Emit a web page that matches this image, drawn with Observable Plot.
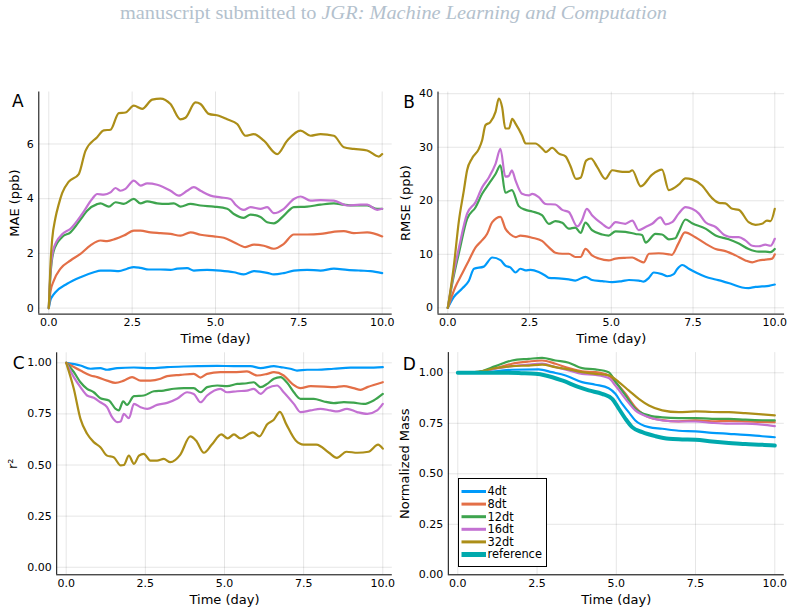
<!DOCTYPE html>
<html>
<head>
<meta charset="utf-8">
<script src="https://cdn.jsdelivr.net/npm/d3@7"></script>
<script src="https://cdn.jsdelivr.net/npm/@observablehq/plot@0.6"></script>
<style>
  body { margin: 0; background: #fff; }
  #fig { position: relative; width: 793px; height: 614px; overflow: hidden; background: #fff;
         font-family: "DejaVu Sans", sans-serif; }
  .panel { position: absolute; }
  .panel svg { overflow: visible; }
</style>
</head>
<body>
<div id="fig"></div>
<script>
// ---- series definitions ----
const seriesNames = ["4dt", "8dt", "12dt", "16dt", "32dt"];
const seriesColors = ["#009AFA", "#E36F47", "#3EA44E", "#C371D2", "#AC8E18"];
const referenceName = "reference";
const referenceColor = "#00A9AD";

const xTicks = [0, 2.5, 5, 7.5, 10];
const xDomain = [-0.3, 10.3];

// ---- A: mean absolute error (ppb), [day, value] ----
const mae4dt = [[0,0],[0.05,0.3],[0.1,0.42],[0.2,0.58],[0.55,0.89],[0.95,1.13],[1.35,1.31],[1.55,1.37],[1.85,1.37],[2.1,1.35],[2.35,1.44],[2.55,1.5],[2.75,1.47],[3.0,1.41],[3.35,1.41],[3.65,1.4],[3.85,1.44],[4.15,1.46],[4.35,1.37],[4.75,1.4],[5.15,1.37],[5.55,1.31],[5.85,1.23],[6.15,1.35],[6.55,1.29],[6.75,1.23],[7.05,1.28],[7.35,1.37],[7.75,1.4],[8.15,1.37],[8.55,1.44],[8.95,1.4],[9.35,1.37],[9.65,1.35],[10,1.28]];
const mae8dt = [[0,0],[0.05,0.6],[0.15,1.0],[0.35,1.44],[0.65,1.74],[0.95,1.98],[1.25,2.29],[1.55,2.47],[1.75,2.45],[2.0,2.53],[2.25,2.65],[2.55,2.83],[2.75,2.83],[3.05,2.77],[3.35,2.74],[3.65,2.71],[3.95,2.65],[4.25,2.77],[4.55,2.68],[4.95,2.62],[5.25,2.57],[5.55,2.41],[5.9,2.23],[6.15,2.32],[6.45,2.28],[6.75,2.17],[7.05,2.35],[7.35,2.69],[7.75,2.69],[8.15,2.71],[8.45,2.77],[8.85,2.81],[9.15,2.74],[9.55,2.77],[10,2.62]];
const mae12dt = [[0,0],[0.05,1.2],[0.15,2.1],[0.4,2.6],[0.65,2.77],[1.0,3.32],[1.15,3.56],[1.45,3.8],[1.55,3.83],[1.8,3.71],[2.0,3.87],[2.25,3.81],[2.55,3.99],[2.75,3.83],[2.95,3.9],[3.25,3.83],[3.55,3.81],[3.75,3.83],[3.95,3.71],[4.25,3.81],[4.55,3.75],[4.95,3.71],[5.35,3.63],[5.55,3.44],[5.85,3.3],[6.05,3.42],[6.35,3.33],[6.55,3.14],[6.75,3.1],[7.05,3.38],[7.35,3.69],[7.75,3.71],[8.15,3.78],[8.55,3.83],[8.85,3.78],[9.15,3.75],[9.55,3.75],[9.85,3.63],[10,3.63]];
const mae16dt = [[0,0],[0.05,1.3],[0.15,2.2],[0.4,2.7],[0.65,2.9],[1.0,3.44],[1.3,3.99],[1.45,4.17],[1.65,4.15],[1.85,4.23],[2.0,4.39],[2.15,4.29],[2.3,4.36],[2.55,4.66],[2.75,4.48],[2.95,4.56],[3.25,4.51],[3.65,4.29],[3.9,4.11],[4.15,4.29],[4.35,4.42],[4.55,4.29],[4.85,4.11],[5.15,4.05],[5.45,3.99],[5.6,3.78],[5.85,3.59],[6.05,3.69],[6.35,3.63],[6.55,3.69],[6.75,3.47],[7.05,3.63],[7.35,3.99],[7.55,4.08],[7.85,3.93],[8.15,3.95],[8.55,3.93],[8.95,3.75],[9.35,3.78],[9.55,3.78],[9.85,3.59],[10,3.63]];
const mae32dt = [[0,0],[0.05,1.6],[0.1,2.5],[0.2,3.3],[0.3,3.8],[0.4,4.2],[0.6,4.62],[0.9,4.9],[1.1,5.75],[1.45,6.25],[1.65,6.5],[1.85,6.52],[2.1,7.13],[2.3,7.15],[2.55,7.4],[2.8,7.28],[3.1,7.62],[3.35,7.66],[3.65,7.46],[3.95,6.9],[4.1,6.96],[4.4,7.52],[4.55,7.46],[4.8,7.1],[5.1,7.03],[5.35,6.9],[5.65,6.73],[5.9,6.3],[6.15,6.36],[6.45,6.12],[6.85,5.63],[7.15,6.12],[7.55,6.49],[7.85,6.3],[8.15,6.36],[8.55,6.3],[8.85,5.88],[9.15,5.82],[9.55,5.76],[9.9,5.54],[10,5.63]];

// ---- B: root mean square error (ppb) ----
const rmse4dt = [[0,0],[0.18,2.0],[0.44,3.6],[0.64,5.0],[0.8,7.3],[1.1,7.7],[1.36,9.4],[1.61,8.9],[1.76,7.9],[1.92,7.5],[2.07,6.6],[2.22,7.3],[2.38,7.0],[2.53,7.1],[2.78,6.7],[2.99,6.0],[3.09,5.6],[3.39,5.5],[3.7,5.3],[3.9,5.1],[4.21,5.8],[4.41,5.2],[4.72,5.0],[5.03,4.8],[5.33,5.0],[5.54,5.2],[5.84,5.1],[5.99,4.9],[6.15,5.6],[6.3,6.6],[6.55,6.3],[6.71,5.9],[6.91,6.3],[7.01,7.2],[7.17,8.0],[7.37,7.3],[7.62,6.5],[7.88,5.8],[8.19,5.3],[8.39,5.0],[8.7,4.4],[9.0,3.8],[9.2,3.7],[9.41,3.9],[9.61,4.0],[9.82,4.1],[10,4.35]];
const rmse8dt = [[0,0],[0.23,3.9],[0.44,6.4],[0.64,8.8],[0.85,11.3],[1.0,12.3],[1.2,13.8],[1.36,16.0],[1.61,17.0],[1.76,14.8],[1.92,13.7],[2.07,13.2],[2.22,13.5],[2.58,13.1],[2.88,12.5],[3.09,11.3],[3.29,10.3],[3.5,10.1],[3.7,10.1],[3.9,9.5],[4.06,9.5],[4.21,11.0],[4.41,9.8],[4.62,9.2],[4.92,8.85],[5.13,9.2],[5.43,9.35],[5.64,9.4],[5.84,8.85],[5.99,8.5],[6.15,10.1],[6.45,10.2],[6.76,10.0],[6.85,9.9],[7.05,12.0],[7.25,14.1],[7.57,13.2],[7.88,12.0],[8.19,11.0],[8.49,10.6],[8.8,9.8],[9.1,8.85],[9.31,8.5],[9.51,8.85],[9.71,9.0],[9.92,9.2],[10,10.0]];
const rmse12dt = [[0,0],[0.15,5.0],[0.35,10.5],[0.59,16.6],[0.85,18.8],[1.05,21.3],[1.26,23.2],[1.46,25.0],[1.61,26.6],[1.76,21.5],[1.96,22.0],[2.17,19.0],[2.38,18.3],[2.58,18.0],[2.88,17.3],[3.09,15.7],[3.29,16.2],[3.5,15.9],[3.7,14.8],[3.9,15.0],[4.06,14.0],[4.21,15.9],[4.41,14.5],[4.72,13.7],[4.92,13.5],[5.13,14.3],[5.43,14.2],[5.74,13.8],[5.94,13.6],[6.05,12.2],[6.35,13.8],[6.55,13.7],[6.76,12.8],[6.96,13.0],[7.05,14.0],[7.27,16.5],[7.47,15.8],[7.88,14.8],[8.19,13.5],[8.59,12.8],[8.9,12.0],[9.2,11.0],[9.51,10.5],[9.71,10.5],[9.87,10.4],[10,11.0]];
const rmse16dt = [[0,0],[0.15,5.5],[0.35,11.5],[0.59,17.6],[0.85,19.75],[1.05,22.5],[1.26,24.4],[1.46,26.9],[1.61,29.7],[1.76,24.5],[1.86,24.6],[1.96,25.7],[2.07,23.8],[2.27,21.3],[2.48,21.0],[2.58,21.3],[2.78,20.7],[2.99,19.4],[3.29,19.3],[3.5,18.3],[3.7,17.9],[3.96,15.2],[4.1,16.3],[4.25,18.5],[4.41,17.3],[4.72,15.7],[4.92,14.9],[5.13,16.0],[5.43,15.7],[5.64,16.3],[5.84,14.5],[6.05,15.1],[6.25,15.7],[6.5,16.9],[6.66,15.6],[6.86,16.0],[7.06,17.6],[7.27,18.8],[7.47,18.5],[7.68,17.6],[7.88,16.0],[8.19,15.1],[8.49,13.5],[8.7,13.2],[8.9,13.2],[9.1,12.6],[9.31,11.6],[9.51,11.5],[9.71,11.8],[9.87,11.6],[10,12.9]];
const rmse32dt = [[0,0],[0.18,7.6],[0.34,16.3],[0.49,21.9],[0.59,25.7],[0.74,27.9],[0.95,29.7],[1.05,31.3],[1.15,34.1],[1.3,34.7],[1.46,36.6],[1.56,39.1],[1.66,37.5],[1.76,33.5],[1.87,33.5],[1.97,35.3],[2.07,34.4],[2.27,32.2],[2.38,30.7],[2.68,30.7],[2.88,29.8],[3.0,29.1],[3.19,29.9],[3.4,28.8],[3.6,28.3],[3.75,26.5],[3.92,24.1],[4.06,24.3],[4.23,27.5],[4.38,27.9],[4.57,26.3],[4.82,24.1],[5.03,25.7],[5.34,25.4],[5.54,25.4],[5.64,25.7],[5.9,22.7],[6.25,24.9],[6.55,25.8],[6.76,22.0],[7.06,23.0],[7.27,24.2],[7.47,24.0],[7.78,22.8],[8.08,20.5],[8.29,19.6],[8.49,19.5],[8.7,18.5],[8.9,18.3],[9.2,16.0],[9.41,15.5],[9.61,15.7],[9.76,16.3],[9.87,16.2],[10,18.5]];

// ---- C: coefficient of determination ----
const r2_4dt = [[0,1],[0.45,0.987],[0.77,0.971],[1.08,0.974],[1.29,0.966],[1.61,0.974],[2.14,0.977],[2.66,0.974],[3.19,0.979],[3.72,0.982],[4.24,0.984],[4.77,0.985],[5.29,0.984],[5.82,0.984],[6.14,0.974],[6.56,0.984],[6.77,0.979],[7.08,0.971],[7.29,0.962],[7.61,0.966],[7.93,0.966],[8.45,0.971],[8.98,0.976],[9.51,0.976],[10,0.979]];
const r2_8dt = [[0,1],[0.45,0.962],[0.77,0.938],[0.98,0.93],[1.29,0.913],[1.55,0.902],[1.82,0.913],[2.08,0.93],[2.35,0.913],[2.66,0.913],[2.98,0.922],[3.19,0.935],[3.61,0.941],[4.03,0.946],[4.24,0.928],[4.45,0.946],[4.87,0.954],[5.29,0.954],[5.71,0.958],[6.03,0.938],[6.35,0.946],[6.56,0.954],[6.87,0.938],[7.14,0.897],[7.4,0.876],[7.72,0.886],[8.14,0.884],[8.45,0.881],[8.77,0.886],[9.08,0.876],[9.3,0.868],[9.51,0.881],[10,0.905]];
const r2_12dt = [[0,1],[0.24,0.955],[0.45,0.905],[0.66,0.873],[0.87,0.856],[1.08,0.827],[1.35,0.816],[1.56,0.775],[1.66,0.767],[1.8,0.811],[1.92,0.794],[2.14,0.837],[2.45,0.84],[2.77,0.861],[3.08,0.864],[3.4,0.873],[3.72,0.876],[4.03,0.876],[4.24,0.856],[4.45,0.881],[4.77,0.889],[5.08,0.886],[5.4,0.897],[5.71,0.9],[5.92,0.905],[6.14,0.881],[6.35,0.897],[6.56,0.922],[6.77,0.93],[6.98,0.902],[7.19,0.856],[7.4,0.824],[7.82,0.824],[8.14,0.811],[8.45,0.803],[8.77,0.808],[9.08,0.805],[9.4,0.799],[9.71,0.816],[10,0.848]];
const r2_16dt = [[0,1],[0.24,0.93],[0.45,0.881],[0.66,0.84],[0.87,0.829],[1.08,0.807],[1.29,0.783],[1.45,0.734],[1.61,0.71],[1.72,0.713],[1.82,0.75],[1.98,0.729],[2.14,0.799],[2.35,0.783],[2.56,0.775],[2.87,0.794],[3.19,0.804],[3.5,0.824],[3.82,0.856],[4.03,0.848],[4.24,0.807],[4.45,0.84],[4.87,0.873],[5.08,0.856],[5.4,0.861],[5.71,0.864],[5.92,0.873],[6.14,0.848],[6.35,0.876],[6.66,0.889],[6.87,0.856],[7.19,0.799],[7.4,0.759],[7.72,0.767],[8.03,0.775],[8.35,0.767],[8.56,0.762],[8.87,0.775],[9.19,0.759],[9.51,0.75],[9.82,0.767],[10,0.799]];
const r2_32dt = [[0,1],[0.24,0.873],[0.45,0.726],[0.66,0.653],[0.87,0.612],[1.08,0.587],[1.29,0.546],[1.5,0.538],[1.72,0.498],[1.82,0.5],[1.98,0.546],[2.14,0.506],[2.3,0.546],[2.45,0.555],[2.66,0.522],[2.87,0.522],[3.08,0.53],[3.29,0.514],[3.6,0.55],[3.92,0.64],[4.1,0.62],[4.35,0.56],[4.6,0.6],[4.9,0.65],[5.1,0.63],[5.3,0.65],[5.5,0.63],[5.9,0.66],[6.1,0.64],[6.35,0.7],[6.55,0.72],[6.75,0.76],[6.95,0.7],[7.25,0.62],[7.5,0.6],[7.9,0.6],[8.3,0.56],[8.55,0.535],[8.85,0.565],[9.2,0.56],[9.55,0.565],[9.85,0.6],[10,0.58]];

// ---- D: normalized mass ----
const mass4dt = [[0,1],[0.6,1.0],[1.19,1.007],[1.71,1.015],[2.55,1.017],[2.97,1.003],[3.4,0.987],[3.92,0.954],[4.34,0.941],[4.76,0.924],[4.97,0.896],[5.18,0.847],[5.39,0.805],[5.6,0.764],[6.03,0.731],[6.45,0.723],[6.97,0.713],[7.5,0.71],[8.02,0.703],[8.55,0.698],[9.07,0.693],[9.6,0.686],[10,0.681]];
const mass8dt = [[0,1],[0.66,1.005],[1.19,1.023],[1.71,1.045],[2.24,1.056],[2.66,1.061],[3.08,1.045],[3.5,1.023],[3.92,1.007],[4.34,1.003],[4.76,0.987],[4.97,0.954],[5.29,0.896],[5.6,0.83],[6.03,0.78],[6.45,0.766],[6.97,0.76],[7.5,0.764],[8.02,0.76],[8.55,0.762],[9.07,0.76],[9.6,0.757],[10,0.756]];
const mass12dt = [[0,1],[0.66,1.005],[1.19,1.033],[1.71,1.061],[2.24,1.069],[2.66,1.074],[3.08,1.061],[3.5,1.05],[3.92,1.023],[4.34,1.017],[4.76,1.003],[4.97,0.957],[5.29,0.888],[5.6,0.822],[6.03,0.789],[6.45,0.779],[6.97,0.776],[7.5,0.776],[8.02,0.772],[8.55,0.772],[9.07,0.768],[9.6,0.765],[10,0.764]];
const mass16dt = [[0,1],[0.66,1.003],[1.19,1.02],[1.71,1.033],[2.24,1.041],[2.66,1.045],[3.08,1.028],[3.5,1.012],[3.92,0.995],[4.34,0.99],[4.76,0.974],[4.97,0.937],[5.29,0.871],[5.6,0.814],[6.03,0.78],[6.45,0.764],[6.97,0.759],[7.5,0.759],[8.02,0.752],[8.55,0.748],[9.07,0.748],[9.6,0.743],[10,0.736]];
const mass32dt = [[0,1],[0.66,1.005],[1.19,1.023],[1.71,1.033],[2.24,1.036],[2.66,1.04],[3.08,1.028],[3.5,1.017],[3.92,1.003],[4.34,0.995],[4.76,0.987],[5.08,0.954],[5.39,0.913],[5.71,0.871],[6.03,0.838],[6.45,0.814],[6.97,0.805],[7.5,0.809],[8.02,0.806],[8.55,0.805],[9.07,0.8],[9.6,0.794],[10,0.789]];
const massReference = [[0,1],[1.5,1.0],[2.0,0.998],[2.45,0.995],[2.77,0.987],[3.29,0.962],[3.82,0.929],[4.13,0.913],[4.55,0.896],[4.87,0.871],[5.08,0.822],[5.29,0.772],[5.5,0.731],[5.82,0.706],[6.24,0.686],[6.66,0.673],[7.08,0.67],[7.5,0.668],[8.02,0.66],[8.55,0.653],[9.07,0.647],[9.6,0.644],[10,0.64]];

// ---- helpers ----
function toRows(seriesList, names) {
  return seriesList.flatMap((pts, i) => pts.map(([day, value]) => ({series: names[i], day, value})));
}

const fig = document.getElementById("fig");

function panel({rows, names, colors, widths, yDomain, yTicks, yFormat, yLabel, tag, box, margins, tagOffset, yLabelDx}) {
  const [left, top, width, height] = box;
  const [mt, mr, mb, ml] = margins;
  const chart = Plot.plot({
    width, height,
    marginTop: mt, marginRight: mr, marginBottom: mb, marginLeft: ml,
    style: {fontFamily: "DejaVu Sans, sans-serif", fontSize: "11px", color: "#000", background: "transparent"},
    x: {domain: xDomain},
    y: {domain: yDomain},
    color: {domain: names, range: colors},
    marks: [
      Plot.gridX(xTicks, {stroke: "#000", strokeOpacity: 0.1, strokeWidth: 1}),
      Plot.gridY(yTicks, {stroke: "#000", strokeOpacity: 0.1, strokeWidth: 1}),
      Plot.axisX(xTicks, {tickSize: 0, tickPadding: 4, tickFormat: d3.format(".1f"), label: null, fontSize: 11}),
      Plot.axisY(yTicks, {tickSize: 0, tickPadding: 5, tickFormat: yFormat, label: null, fontSize: 11}),
      Plot.ruleX([xDomain[0]], {stroke: "#000", strokeWidth: 1}),
      Plot.ruleY([yDomain[0]], {stroke: "#000", strokeWidth: 1}),
      ...names.map((n, i) => Plot.line(rows.filter(r => r.series === n), {
        x: "day", y: "value", stroke: "series", strokeWidth: widths[i], curve: "monotone-x"
      })),
      Plot.text(["Time (day)"], {frameAnchor: "bottom", dy: 25, fontSize: 13, lineAnchor: "middle", textAnchor: "middle"}),
      Plot.text([yLabel], {frameAnchor: "left", dx: yLabelDx, rotate: -90, fontSize: 13, lineAnchor: "middle", textAnchor: "middle"}),
      Plot.text([tag], {frameAnchor: "top-left", dx: tagOffset[0], dy: tagOffset[1], fontSize: 17, lineAnchor: "middle", textAnchor: "middle"})
    ]
  });
  const holder = document.createElement("div");
  holder.className = "panel";
  holder.style.left = left + "px";
  holder.style.top = top + "px";
  holder.appendChild(chart);
  fig.appendChild(holder);
}

const lineWidths = [2.2, 2.2, 2.2, 2.2, 2.2];

// header line
const header = d3.select(fig).append("svg")
  .attr("width", 793).attr("height", 30)
  .style("position", "absolute").style("left", "0px").style("top", "0px");
const headerText = header.append("text")
  .attr("x", 120).attr("y", 18.5)
  .attr("textLength", 547).attr("lengthAdjust", "spacingAndGlyphs")
  .attr("fill", "#b3c1cd")
  .style("font-family", "'Liberation Serif', 'DejaVu Serif', serif")
  .style("font-size", "18px");
headerText.append("tspan").text("manuscript submitted to ");
headerText.append("tspan").style("font-style", "italic").text("JGR: Machine Learning and Computation");

panel({
  rows: toRows([mae4dt, mae8dt, mae12dt, mae16dt, mae32dt], seriesNames),
  names: seriesNames, colors: seriesColors, widths: lineWidths,
  yDomain: [-0.22, 7.9], yTicks: [0, 2, 4, 6], yFormat: d3.format("d"),
  yLabel: "MAE (ppb)", tag: "A",
  box: [0, 80, 396, 270], margins: [11.5, 4.3, 36.4, 38.3],
  tagOffset: [-21, 10], yLabelDx: -24
});

panel({
  rows: toRows([rmse4dt, rmse8dt, rmse12dt, rmse16dt, rmse32dt], seriesNames),
  names: seriesNames, colors: seriesColors, widths: lineWidths,
  yDomain: [-1.17, 40.3], yTicks: [0, 10, 20, 30, 40], yFormat: d3.format("d"),
  yLabel: "RMSE (ppb)", tag: "B",
  box: [396, 80, 397, 270], margins: [11.6, 8.9, 36.4, 41.5],
  tagOffset: [-29, 10.5], yLabelDx: -32
});

panel({
  rows: toRows([r2_4dt, r2_8dt, r2_12dt, r2_16dt, r2_32dt], seriesNames),
  names: seriesNames, colors: seriesColors, widths: lineWidths,
  yDomain: [-0.037, 1.049], yTicks: [0, 0.25, 0.5, 0.75, 1], yFormat: d3.format(".2f"),
  yLabel: "r²", tag: "C",
  box: [0, 340, 396, 274], margins: [12.3, 4.2, 39.7, 56.2],
  tagOffset: [-38, 11], yLabelDx: -44
});

const massNames = [...seriesNames, referenceName];
const massColors = [...seriesColors, referenceColor];
panel({
  rows: toRows([mass4dt, mass8dt, mass12dt, mass16dt, mass32dt, massReference], massNames),
  names: massNames, colors: massColors, widths: [...lineWidths, 4],
  yDomain: [0, 1.1], yTicks: [0, 0.25, 0.5, 0.75, 1], yFormat: d3.format(".2f"),
  yLabel: "Normalized Mass", tag: "D",
  box: [396, 340, 397, 274], margins: [12.1, 9.2, 39.7, 51.8],
  tagOffset: [-39, 12], yLabelDx: -43
});

// legend inside panel D
const legend = d3.select(fig).append("svg")
  .attr("width", 90).attr("height", 90)
  .style("position", "absolute").style("left", "458px").style("top", "478px");
legend.append("rect").attr("x", 0.5).attr("y", 0.5).attr("width", 88).attr("height", 88)
  .attr("fill", "#fff").attr("stroke", "#000").attr("stroke-width", 1);
massNames.forEach((name, i) => {
  const y = 13.5 + i * 12.6;
  legend.append("line").attr("x1", 3.5).attr("x2", 28).attr("y1", y).attr("y2", y)
    .attr("stroke", massColors[i]).attr("stroke-width", name === referenceName ? 5 : 3);
  legend.append("text").attr("x", 29.5).attr("y", y).attr("dy", "0.35em")
    .style("font-family", "'DejaVu Sans', sans-serif").style("font-size", "11.4px")
    .attr("fill", "#000").text(name);
});
</script>
</body>
</html>
